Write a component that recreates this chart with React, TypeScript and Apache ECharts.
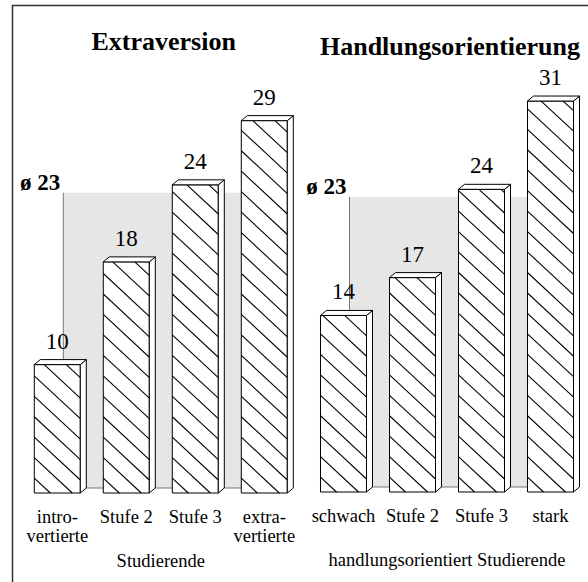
import React, { useEffect, useRef } from "react";
import * as echarts from "echarts";

const leftCategories = ["intro-\nvertierte", "Stufe 2", "Stufe 3", "extra-\nvertierte"];
const leftValues = [10, 18, 24, 29];
const rightCategories = ["schwach", "Stufe 2", "Stufe 3", "stark"];
const rightValues = [14, 17, 24, 31];
const averages = [23, 23];
const titles = ["Extraversion", "Handlungsorientierung"];
const axisNames = ["Studierende", "handlungsorientiert Studierende"];

const FONT = "'Liberation Serif', 'Times New Roman', serif";
const DX = 6;
const DY = 5;
const SLOPE = 0.93;
const PERIOD = 22;

function barRender(params: any, api: any) {
  const idx = api.value(0);
  const val = api.value(1);
  const top = api.coord([idx, val]);
  const base = api.coord([idx, 0]);
  const band = api.size([1, 0])[0];
  const w = band * 0.667;
  const x0 = top[0] - w / 2;
  const x1 = top[0] + w / 2;
  const yT = top[1];
  const yB = base[1];
  const H = yB - yT;
  const children: any[] = [];
  children.push({
    type: "rect",
    shape: { x: x0, y: yT, width: w, height: H },
    style: { fill: "#fff", stroke: "none" },
  });
  const off = 16;
  for (let k = -40; k < 40; k++) {
    const xb = x0 + off + k * PERIOD;
    const lo = Math.max(x0, xb - H / SLOPE);
    const hi = Math.min(x1, xb);
    if (hi - lo < 0.5) continue;
    const yLo = yB + SLOPE * (lo - xb);
    const yHi = yB + SLOPE * (hi - xb);
    children.push({
      type: "line",
      shape: { x1: lo, y1: yLo, x2: hi, y2: yHi },
      style: { stroke: "#000", lineWidth: 1.1 },
    });
  }
  children.push({
    type: "rect",
    shape: { x: x0, y: yT, width: w, height: H },
    style: { fill: "none", stroke: "#000", lineWidth: 1 },
  });
  children.push({
    type: "polygon",
    shape: { points: [[x1, yT], [x1 + DX, yT - DY], [x1 + DX, yB - DY], [x1, yB]] },
    style: { fill: "#fff", stroke: "#000", lineWidth: 1 },
  });
  children.push({
    type: "polygon",
    shape: { points: [[x0, yT], [x0 + DX, yT - DY], [x1 + DX, yT - DY], [x1, yT]] },
    style: { fill: "#fff", stroke: "#000", lineWidth: 1 },
  });
  children.push({
    type: "text",
    x: top[0],
    y: yT - 23.5,
    style: {
      text: String(val),
      align: "center",
      verticalAlign: "middle",
      fontSize: 23,
      fontFamily: FONT,
      fill: "#000",
    },
  });
  return { type: "group", children };
}

function avgRender(params: any, api: any) {
  const i0 = api.value(0);
  const i1 = api.value(1);
  const avg = api.value(2);
  const pTop = api.coord([i0, avg]);
  const pBase = api.coord([i1, 0]);
  const xl = pTop[0] + DX;
  const xr = pBase[0] + DX;
  const yt = pTop[1] - DY;
  const yb = pBase[1] - DY;
  return {
    type: "group",
    children: [
      {
        type: "rect",
        shape: { x: xl, y: yt, width: xr - xl, height: yb - yt },
        style: { fill: "#e6e6e6", stroke: "none" },
      },
      {
        type: "polyline",
        shape: { points: [[xl, yt], [xl, yb], [xr, yb]] },
        style: { fill: "none", stroke: "#777", lineWidth: 1 },
      },
      {
        type: "text",
        x: xl - 3,
        y: yt - 10,
        style: {
          text: "ø " + avg,
          align: "right",
          verticalAlign: "middle",
          fontSize: 23,
          fontWeight: "bold",
          fontFamily: FONT,
          fill: "#000",
        },
      },
    ],
  };
}

export default function App() {
  const ref = useRef<HTMLDivElement>(null);
  useEffect(() => {
    if (!ref.current) return;
    const chart = echarts.init(ref.current, null, { renderer: "svg" });
    const axisLabel = {
      fontSize: 18.5,
      fontFamily: FONT,
      color: "#000",
      lineHeight: 19,
      margin: 14.5,
      interval: 0,
    };
    const nameStyle = { fontSize: 18.5, fontFamily: FONT, color: "#000" };
    chart.setOption({
      animation: false,
      backgroundColor: "#fff",
      grid: [
        { left: 22.8, width: 276, top: 43.6, height: 449.4 },
        { left: 309, width: 276, top: 50.6, height: 441.4 },
      ],
      xAxis: [
        {
          type: "category",
          gridIndex: 0,
          data: leftCategories,
          axisLine: { show: false },
          axisTick: { show: false },
          axisLabel,
          name: axisNames[0],
          nameLocation: "middle",
          nameGap: 58,
          nameTextStyle: nameStyle,
        },
        {
          type: "category",
          gridIndex: 1,
          data: rightCategories,
          axisLine: { show: false },
          axisTick: { show: false },
          axisLabel: { ...axisLabel, margin: 14 },
          name: axisNames[1],
          nameLocation: "middle",
          nameGap: 58.5,
          nameTextStyle: nameStyle,
        },
      ],
      yAxis: [
        { type: "value", gridIndex: 0, min: 0, max: 35, show: false },
        { type: "value", gridIndex: 1, min: 0, max: 35, show: false },
      ],
      graphic: [
        {
          type: "polyline",
          shape: { points: [[12.5, 590], [12.5, 5.5], [600, 5.5]] },
          style: { fill: "none", stroke: "#333", lineWidth: 1.5 },
          silent: true,
        },
        {
          type: "text",
          x: 163.7,
          y: 41,
          style: {
            text: titles[0],
            align: "center",
            verticalAlign: "middle",
            fontSize: 26,
            fontWeight: "bold",
            fontFamily: FONT,
            fill: "#000",
          },
        },
        {
          type: "text",
          x: 450,
          y: 46,
          style: {
            text: titles[1],
            align: "center",
            verticalAlign: "middle",
            fontSize: 26,
            fontWeight: "bold",
            fontFamily: FONT,
            fill: "#000",
          },
        },
      ],
      series: [
        {
          type: "custom",
          xAxisIndex: 0,
          yAxisIndex: 0,
          z: 1,
          silent: true,
          renderItem: avgRender,
          encode: { x: [0, 1], y: 2 },
          data: [[0, leftCategories.length - 1, averages[0]]],
        },
        {
          type: "custom",
          xAxisIndex: 1,
          yAxisIndex: 1,
          z: 1,
          silent: true,
          renderItem: avgRender,
          encode: { x: [0, 1], y: 2 },
          data: [[0, rightCategories.length - 1, averages[1]]],
        },
        {
          type: "custom",
          xAxisIndex: 0,
          yAxisIndex: 0,
          z: 2,
          silent: true,
          renderItem: barRender,
          encode: { x: 0, y: 1 },
          data: leftValues.map((v, i) => [i, v]),
        },
        {
          type: "custom",
          xAxisIndex: 1,
          yAxisIndex: 1,
          z: 2,
          silent: true,
          renderItem: barRender,
          encode: { x: 0, y: 1 },
          data: rightValues.map((v, i) => [i, v]),
        },
      ],
    });
    return () => chart.dispose();
  }, []);
  return (
    <div
      ref={ref}
      style={{ position: "fixed", left: 0, top: 0, width: 588, height: 582, background: "#fff" }}
    />
  );
}
